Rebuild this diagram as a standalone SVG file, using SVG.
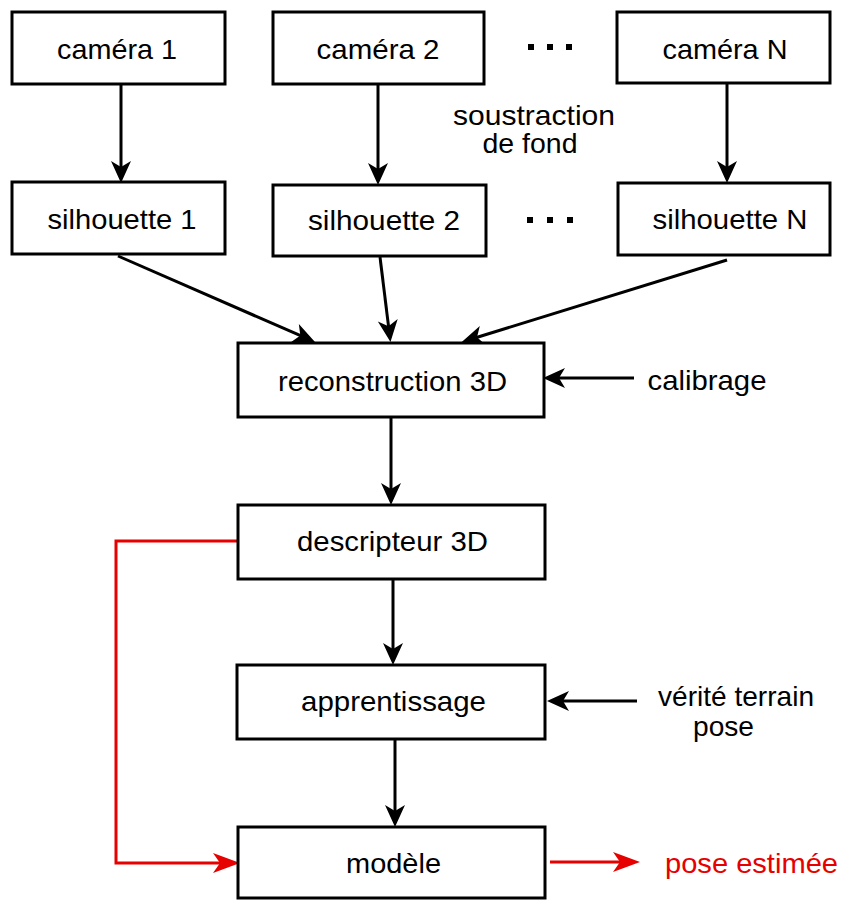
<svg xmlns="http://www.w3.org/2000/svg" width="842" height="900" viewBox="0 0 842 900">
  <style>
    .box { fill: #ffffff; stroke: #000000; stroke-width: 3; }
    .lbl { font-family: "Liberation Sans", Arial, sans-serif; font-size: 28px; fill: #000000; text-anchor: middle; }
    .red { fill: #e60000; }
    .edge { fill: none; stroke: #000000; stroke-width: 3; }
    .edge-red { fill: none; stroke: #e60000; stroke-width: 3; }
    .dot { fill: #000000; }
  </style>
  <defs>
    <marker id="ah" viewBox="-24 -11 26 22" markerWidth="26" markerHeight="22" refX="-12" refY="0" orient="auto" markerUnits="userSpaceOnUse">
      <path d="M0,0 L-22,-10 L-16,0 L-22,10 Z" fill="#000000"/>
    </marker>
    <marker id="ahr" viewBox="-29 -11 31 22" markerWidth="31" markerHeight="22" refX="-15" refY="0" orient="auto" markerUnits="userSpaceOnUse">
      <path d="M0,0 L-27,-10 L-20,0 L-27,10 Z" fill="#e60000"/>
    </marker>
  </defs>
  <rect width="842" height="900" fill="#ffffff"/>

  <g id="connectors">
    <line class="edge" x1="121" y1="84" x2="121" y2="171" marker-end="url(#ah)"/>
    <line class="edge" x1="378" y1="84" x2="378" y2="173" marker-end="url(#ah)"/>
    <line class="edge" x1="727" y1="83" x2="727" y2="171" marker-end="url(#ah)"/>
    <line class="edge" x1="118" y1="256" x2="304" y2="337.2" marker-end="url(#ah)"/>
    <line class="edge" x1="380" y1="257" x2="389" y2="330.1" marker-end="url(#ah)"/>
    <line class="edge" x1="727" y1="260" x2="473.2" y2="338.5" marker-end="url(#ah)"/>
    <line class="edge" x1="634" y1="378" x2="555" y2="378" marker-end="url(#ah)"/>
    <line class="edge" x1="391" y1="417" x2="391" y2="493" marker-end="url(#ah)"/>
    <line class="edge" x1="393" y1="579" x2="393" y2="653" marker-end="url(#ah)"/>
    <line class="edge" x1="637" y1="701" x2="559" y2="701" marker-end="url(#ah)"/>
    <line class="edge" x1="395" y1="739" x2="395" y2="815" marker-end="url(#ah)"/>
    <path class="edge-red" d="M238,541 H116 V863 H225" marker-end="url(#ahr)"/>
    <line class="edge-red" x1="550" y1="862" x2="625" y2="862" marker-end="url(#ahr)"/>
  </g>

  <g id="camera1">
    <rect class="box" x="12" y="12" width="213" height="72"/>
    <text class="lbl" x="117" y="59" textLength="120" lengthAdjust="spacingAndGlyphs">caméra 1</text>
  </g>
  <g id="camera2">
    <rect class="box" x="273" y="12" width="211" height="72"/>
    <text class="lbl" x="378" y="59" textLength="123" lengthAdjust="spacingAndGlyphs">caméra 2</text>
  </g>
  <g id="dots-top">
    <rect class="dot" x="528" y="44" width="6" height="6"/>
    <rect class="dot" x="547" y="44" width="6" height="6"/>
    <rect class="dot" x="566" y="44" width="6" height="6"/>
  </g>
  <g id="cameraN">
    <rect class="box" x="617" y="12" width="213" height="71"/>
    <text class="lbl" x="725" y="59" textLength="125" lengthAdjust="spacingAndGlyphs">caméra N</text>
  </g>

  <g id="label-soustraction">
    <text class="lbl" x="534" y="125" textLength="162" lengthAdjust="spacingAndGlyphs">soustraction</text>
    <text class="lbl" x="530" y="153" textLength="95" lengthAdjust="spacingAndGlyphs">de fond</text>
  </g>

  <g id="silhouette1">
    <rect class="box" x="12" y="182" width="213" height="72"/>
    <text class="lbl" x="122" y="229" textLength="149" lengthAdjust="spacingAndGlyphs">silhouette 1</text>
  </g>
  <g id="silhouette2">
    <rect class="box" x="273" y="185" width="213" height="71"/>
    <text class="lbl" x="384" y="230" textLength="152" lengthAdjust="spacingAndGlyphs">silhouette 2</text>
  </g>
  <g id="dots-mid">
    <rect class="dot" x="527" y="217" width="6" height="6"/>
    <rect class="dot" x="547" y="217" width="6" height="6"/>
    <rect class="dot" x="567" y="217" width="6" height="6"/>
  </g>
  <g id="silhouetteN">
    <rect class="box" x="618" y="183" width="212" height="72"/>
    <text class="lbl" x="730" y="229" textLength="155" lengthAdjust="spacingAndGlyphs">silhouette N</text>
  </g>

  <g id="reconstruction">
    <rect class="box" x="238" y="343" width="306" height="74"/>
    <text class="lbl" x="392.5" y="391" textLength="229" lengthAdjust="spacingAndGlyphs">reconstruction 3D</text>
  </g>
  <g id="calibrage">
    <text class="lbl" x="707" y="390" textLength="119" lengthAdjust="spacingAndGlyphs">calibrage</text>
  </g>

  <g id="descripteur">
    <rect class="box" x="238" y="505" width="307" height="74"/>
    <text class="lbl" x="392.5" y="551" textLength="191" lengthAdjust="spacingAndGlyphs">descripteur 3D</text>
  </g>

  <g id="apprentissage">
    <rect class="box" x="237" y="665" width="308" height="74"/>
    <text class="lbl" x="393.5" y="711" textLength="185" lengthAdjust="spacingAndGlyphs">apprentissage</text>
  </g>
  <g id="verite">
    <text class="lbl" x="736" y="706" textLength="156" lengthAdjust="spacingAndGlyphs">vérité terrain</text>
    <text class="lbl" x="723.5" y="736" textLength="61" lengthAdjust="spacingAndGlyphs">pose</text>
  </g>

  <g id="modele">
    <rect class="box" x="238" y="827" width="307" height="71"/>
    <text class="lbl" x="393.5" y="873" textLength="95" lengthAdjust="spacingAndGlyphs">modèle</text>
  </g>
  <g id="pose-estimee">
    <text class="lbl red" x="751.5" y="873" textLength="173" lengthAdjust="spacingAndGlyphs">pose estimée</text>
  </g>
</svg>
